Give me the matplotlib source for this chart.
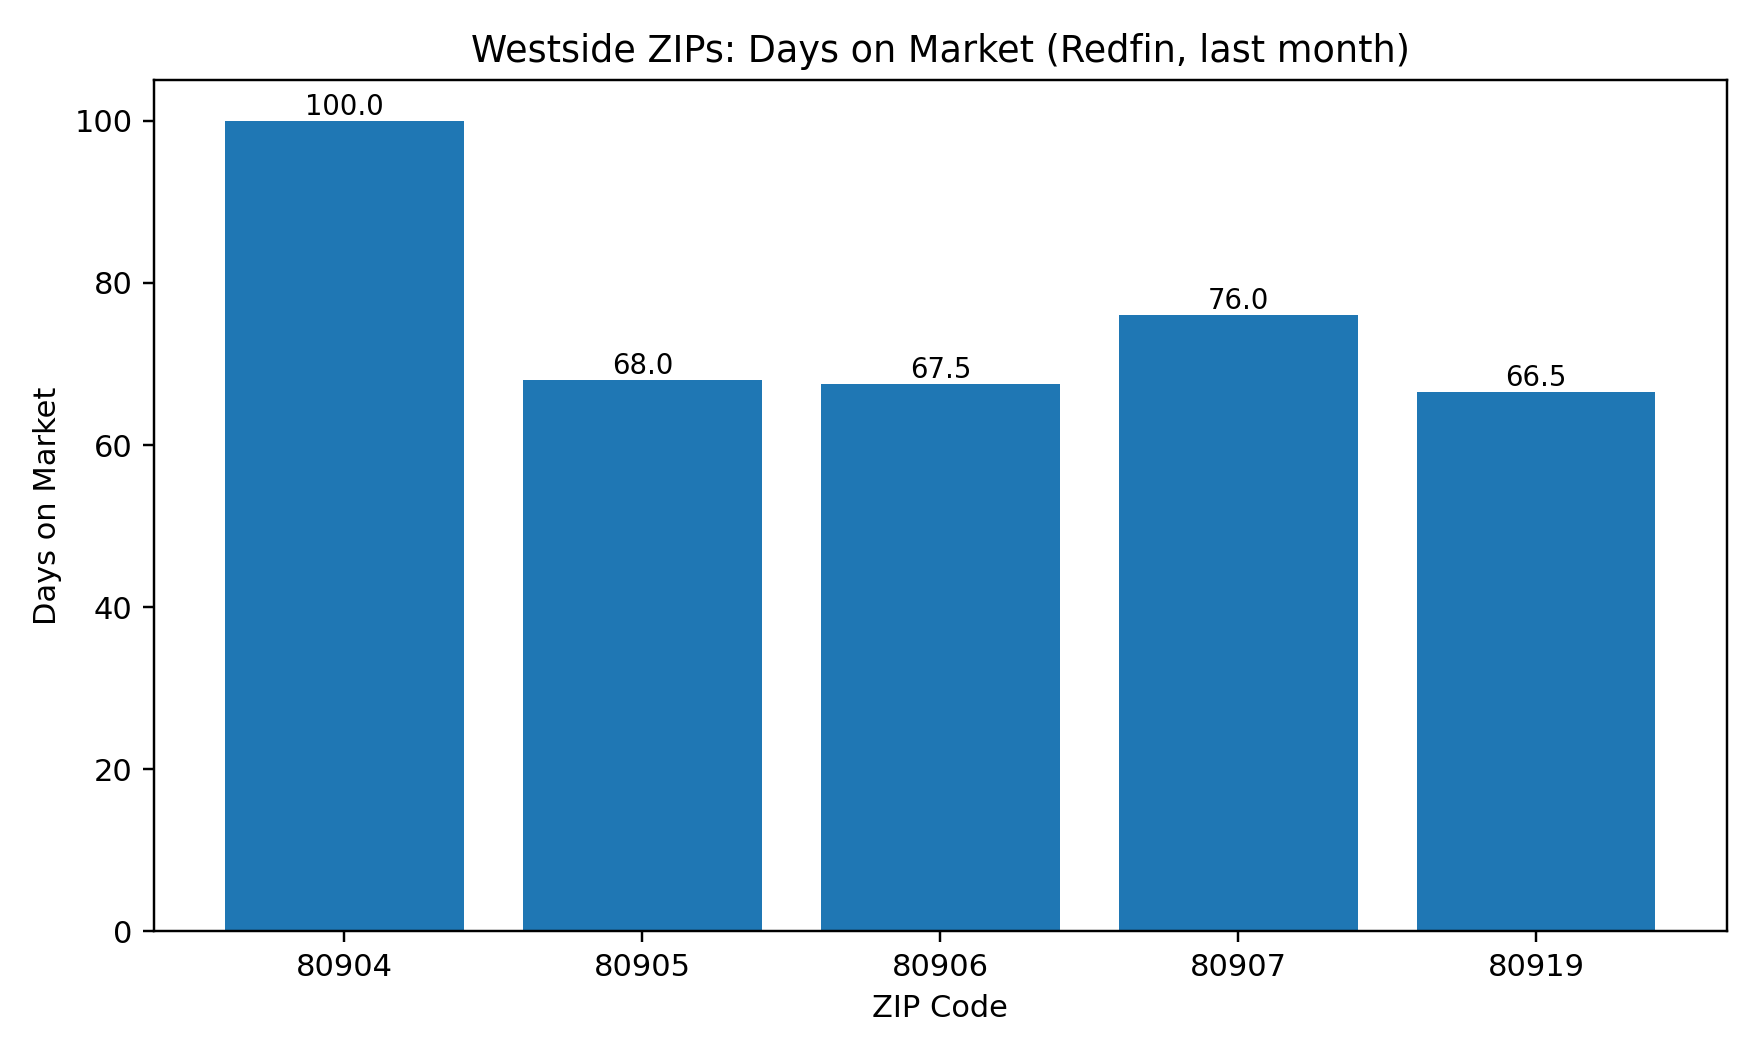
import matplotlib
matplotlib.use("Agg")
import matplotlib.pyplot as plt

zips = ["80904", "80905", "80906", "80907", "80919"]
days_on_market = [100.0, 68.0, 67.5, 76.0, 66.5]

fig, ax = plt.subplots(figsize=(8, 4.8), dpi=220)
bars = ax.bar(zips, days_on_market, color="#1f77b4")
ax.bar_label(bars, labels=[f"{v:.1f}" for v in days_on_market], fontsize=9)
ax.set_title("Westside ZIPs: Days on Market (Redfin, last month)")
ax.set_xlabel("ZIP Code")
ax.set_ylabel("Days on Market")
fig.tight_layout()
fig.savefig("out.png", dpi=220)
